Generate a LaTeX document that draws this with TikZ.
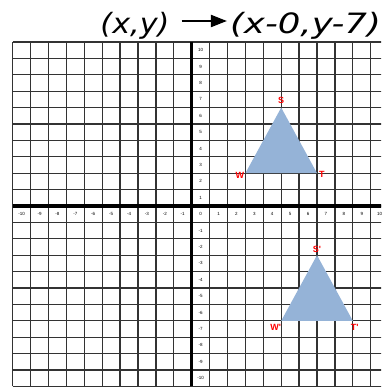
\documentclass[tikz,border=0pt]{standalone}
\usepackage{fontspec}
\usepackage{graphicx}
\usepackage{tikz}
\usetikzlibrary{positioning, arrows.meta}
\usepackage{xcolor}
\newfontfamily\titlefont{DejaVu Sans}
\newfontfamily\tickfont{Liberation Sans}
\definecolor{triblue}{RGB}{149,179,215}

\begin{document}
\begin{tikzpicture}[
  x=17.9pt, y=16.4pt,
  gridline/.style={black!80, line width=1.3pt},
  axisline/.style={black, line width=3.5pt},
  ticklabel/.style={font=\tickfont\fontsize{4.5}{5}\selectfont, inner sep=0pt},
  vertexlabel/.style={font=\tickfont\bfseries\fontsize{9}{10}\selectfont, text=red, inner sep=0pt},
  triangle/.style={fill=triblue},
  title/.style={font=\titlefont\itshape\fontsize{28}{32}\selectfont, inner sep=0pt},
  titlearrow/.style={line width=2pt, -{Triangle[length=16pt, width=12pt]}}
]
  \useasboundingbox (-191.7pt,-182pt) rectangle (189.3pt,206pt);

  % --- grid: 21 x 21 cells, axes on thick lines ---
  \begin{scope}
    \clip (-191.7pt,-182pt) rectangle (189.3pt,206pt);
    \foreach \i in {-10,...,11} \draw[gridline] (\i,-11) -- (\i,10);
    \foreach \j in {-11,...,10} \draw[gridline] (-10,\j) -- (11,\j);
    \draw[axisline] (0,-11) -- (0,10);
    \draw[axisline] (-10,0) -- (11,0);
  \end{scope}

  % --- tick labels sit inside the cells ---
  \foreach \k in {-10,...,10}
    \node[ticklabel] (x\k) at (\k+0.5,-0.5) {\k};
  \foreach \k in {-10,...,-1,1,2,...,10}
    \node[ticklabel] (y\k) at (0.5,\k-0.5) {\k};

  % --- pre-image and image ---
  \coordinate (S) at (5,6);
  \coordinate (T) at (7,2);
  \coordinate (W) at (3,2);
  \coordinate (Sp) at (7,-3);
  \coordinate (Tp) at (9,-7);
  \coordinate (Wp) at (5,-7);

  \fill[triangle] (S) -- (T) -- (W) -- cycle;
  \fill[triangle] (Sp) -- (Tp) -- (Wp) -- cycle;

  \node[vertexlabel] (lS) [above=4pt of S] {S};
  \node[vertexlabel] (lT) [right=2pt of T, yshift=-1pt] {T};
  \node[vertexlabel] (lW) [left=1pt of W, yshift=-2pt] {W};
  \node[vertexlabel] (lSp) [above=2pt of Sp] {S'};
  \node[vertexlabel] (lTp) [below=3pt of Tp, xshift=2pt] {T'};
  \node[vertexlabel] (lWp) [below left=3pt and 0pt of Wp] {W'};

  % --- rule ---
  \node[title] (pre) at (-56.7pt,180.5pt) {\scalebox{1.08}[1]{(x,y)}};
  \node[title] (post) at (113.8pt,180.5pt) {\scalebox{1.27}[1]{(x-0,y-7)}};
  \draw[titlearrow] ([yshift=4.5pt,xshift=12pt]pre.east) -- ([yshift=4.5pt,xshift=-3pt]post.west);
\end{tikzpicture}
\end{document}
